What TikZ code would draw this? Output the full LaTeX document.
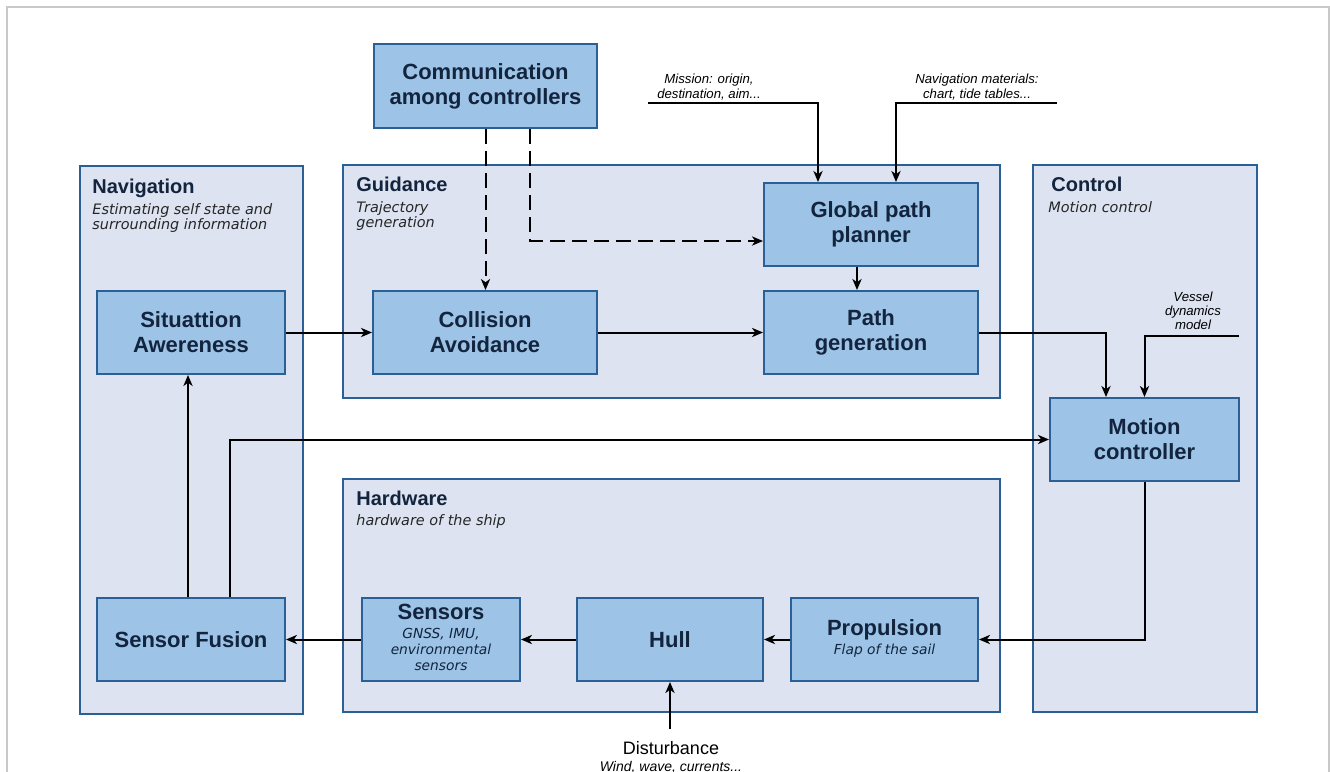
\documentclass[tikz,border=0pt]{standalone}
\usepackage{fontspec}
\setmainfont{Liberation Sans}
\newfontfamily\verd{DejaVu Sans}
\usetikzlibrary{arrows.meta,positioning,calc}
\definecolor{pc}{RGB}{221,227,241}
\definecolor{bc}{RGB}{157,195,230}
\definecolor{ec}{RGB}{42,96,150}
\definecolor{tc}{RGB}{18,36,62}
\definecolor{fc}{RGB}{200,200,200}
\newcommand\desc[1]{{\verd\itshape\mdseries\fontsize{6.9}{8}\selectfont\begin{tabular}[t]{@{}c@{}}#1\end{tabular}}}
\tikzset{blk/.style={draw=ec,fill=bc,line width=1pt,align=center,text=tc,inner sep=1pt,
   font=\fontsize{11}{12.5}\selectfont\bfseries},
 panel/.style={draw=ec,fill=pc,line width=.9pt},
 frame/.style={draw=fc,line width=1pt},
 ptitle/.style={anchor=base west,inner sep=0,text=tc,font=\fontsize{10}{12}\selectfont\bfseries},
 psub/.style={anchor=north west,inner sep=0,align=left,text=black!85,font=\verd\itshape\fontsize{7.2}{7.4}\selectfont},
 note/.style={align=center,inner sep=0,font=\itshape\fontsize{6.6}{7.1}\selectfont},
 wire/.style={line width=1pt},
 arr/.style={wire,-{Stealth[length=5.5pt,width=4.6pt,inset=1.6pt]}},
 dsh/.style={arr,dash pattern=on 7.5pt off 3.5pt}}
\begin{document}
\begin{tikzpicture}[x=.5pt,y=-.5pt]
\useasboundingbox (0,0) rectangle (1330,772);
\draw[frame] (7,772) -- (7,7) -- (1329,7) -- (1329,772);
% panels
\draw[panel] (80,166) rectangle (303,714);
\draw[panel] (343,165) rectangle (1000,398);
\draw[panel] (343,479) rectangle (1000,712);
\draw[panel] (1033,165) rectangle (1257,712);
\node[ptitle] (navt) at (92,193) {Navigation};
\node[psub] (navs) at (92,203) {Estimating self state and\\surrounding information};
\node[ptitle] (gdt) at (356,191) {Guidance};
\node[psub] (gds) at (356,201) {Trajectory\\generation};
\node[ptitle] (ctt) at (1051,191) {Control};
\node[psub] (cts) at (1048,201) {Motion control};
\node[ptitle] (hwt) at (356,505) {Hardware};
\node[psub] (hws) at (356,514) {hardware of the ship};
% blocks
\node[blk,minimum width=111.5pt,minimum height=42pt] (comm) at (485.5,86) {Communication\\among controllers};
\node[blk,minimum width=107pt,minimum height=41.5pt] (gpp) at (871,224.5) {Global path\\planner};
\node[blk,minimum width=94pt,minimum height=41.5pt] (sit) at (191,332.5) {Situattion\\Awereness};
\node[blk,minimum width=112pt,minimum height=41.5pt] (coll) at (485,332.5) {Collision\\Avoidance};
\node[blk,minimum width=107pt,minimum height=41.5pt] (pgen) at (871,332.5) {Path\\generation};
\node[blk,minimum width=94.5pt,minimum height=41.5pt] (mot) at (1144.5,439.5) {Motion\\controller};
\node[blk,minimum width=94pt,minimum height=41.5pt] (fus) at (191,639.5) {Sensor Fusion};
\node[blk,minimum width=79pt,minimum height=41.5pt] (sens) at (441,639.5) {Sensors\\[-3pt]\desc{GNSS, IMU,\\environmental\\sensors}};
\node[blk,minimum width=93pt,minimum height=41.5pt] (hull) at (670,639.5) {Hull};
\node[blk,minimum width=93.5pt,minimum height=41.5pt] (prop) at (884.5,639.5) {Propulsion\\[-3pt]\desc{Flap of the sail}};
% inputs
\node[note] (mist) at (709,87) {Mission: origin,\\destination, aim...};
\node[note] (matt) at (977,87) {Navigation materials:\\chart, tide tables...};
\node[note] (vest) at (1193,311) {Vessel\\dynamics\\model};
\node[inner sep=0,font=\fontsize{9}{10}\selectfont] (dist) at (671,748) {Disturbance};
\node[inner sep=0,font=\itshape\fontsize{7}{8}\selectfont] (wind) at (671,767) {Wind, wave, currents...};
\coordinate (mis) at (648,103);
\coordinate (mat) at (1057,103);
\coordinate (ves) at (1239,336);
\coordinate (dst) at (670,729);
% connectors
\draw[dsh] (comm.south) -- (comm.south |- coll.north);
\draw[dsh] ($(comm.south)+(44.5,0)$) |- ($(gpp.west)+(0,16.5)$);
\draw[arr] (mis) -| ($(gpp.north)+(-53,0)$);
\draw[arr] (mat) -| ($(gpp.north)+(25,0)$);
\draw[arr] ($(gpp.south)+(-14,0)$) -- ($(pgen.north)+(-14,0)$);
\foreach \a/\b in {sit/coll,coll/pgen,prop/hull,hull/sens,sens/fus}{\draw[arr] (\a)--(\b);}
\draw[arr] (pgen.east) -| ($(mot.north)+(-38.5,0)$);
\draw[arr] (ves) -| (mot.north);
\draw[arr] (mot.south) |- (prop.east);
\draw[arr] ($(fus.north)+(-3,0)$) -- ($(sit.south)+(-3,0)$);
\draw[arr] ($(fus.north)+(39,0)$) |- (mot.west);
\draw[arr] (dst) -- (dst |- hull.south);
\end{tikzpicture}
\end{document}
